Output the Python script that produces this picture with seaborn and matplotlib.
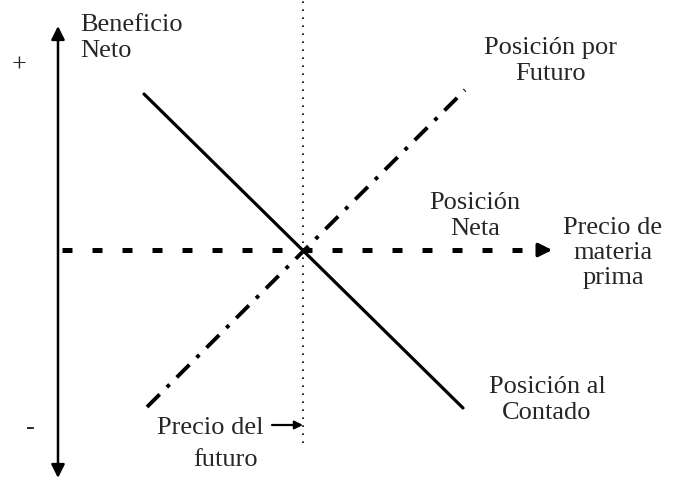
import matplotlib
matplotlib.use("Agg")
import matplotlib.pyplot as plt
import pandas as pd
import seaborn as sns

# price relative to the futures price (x) vs net profit (y)
precio_contado = [-159, 160]
beneficio_contado = [156, -158]
precio_futuro = [-156, 162]
beneficio_futuro = [-157, 160]
precio_neta = [-241, 240]
beneficio_neta = [0, 0]

eje_x = -245
eje_y = [-226, 224]
linea_futuro_y = [-193, 250]

sns.set_style("white")
plt.rcParams['font.family'] = ['Liberation Serif', 'DejaVu Serif']

fig = plt.figure(figsize=(6.73, 4.78), dpi=100)
ax = fig.add_axes([0, 0, 1, 1])
ax.set_xlim(-303, 370)
ax.set_ylim(-228, 250)
ax.set_axis_off()

contado = pd.DataFrame({'precio': precio_contado, 'beneficio': beneficio_contado})
futuro = pd.DataFrame({'precio': precio_futuro, 'beneficio': beneficio_futuro})

sns.lineplot(data=contado, x='precio', y='beneficio', ax=ax,
             color='black', lw=2.3)
sns.lineplot(data=futuro, x='precio', y='beneficio', ax=ax,
             color='black', lw=2.8, linestyle=(0, (4.6, 2.6, 1, 2.6)))
ax.plot(precio_neta, beneficio_neta, color='black', lw=3.6,
        linestyle=(0, (2, 4)))
ax.annotate('', xy=(precio_neta[1] + 12, 0), xytext=(precio_neta[1] - 6, 0),
            arrowprops=dict(arrowstyle='-|>', color='black', lw=2.5,
                            mutation_scale=20))

# vertical dotted line at the futures price
ax.plot([0, 0], linea_futuro_y, color='black', lw=1.2, linestyle=(0, (1, 3.8)))

# profit axis
ax.annotate('', xy=(eje_x, eje_y[1]), xytext=(eje_x, eje_y[0] - 2),
            arrowprops=dict(arrowstyle='<|-|>', color='black', lw=1.8,
                            mutation_scale=20, shrinkA=0, shrinkB=0))

fs = 19
ax.text(-223, 212, 'Beneficio\nNeto', fontsize=fs, ha='left', va='center',
        linespacing=1.2)
ax.text(-284, 184, '+', fontsize=fs, ha='center', va='center')
ax.text(-273, -178, '-', fontsize=fs, ha='center', va='center')
ax.text(248, 189, 'Posición por\nFuturo', fontsize=fs, ha='center',
        va='center', linespacing=1.2)
ax.text(172, 34, 'Posición\nNeta', fontsize=fs, ha='center', va='center',
        linespacing=1.2)
ax.text(310, -3, 'Precio de\nmateria\nprima', fontsize=fs, ha='center',
        va='center', linespacing=1.15)
ax.text(244, -150, 'Posición al\nContado', fontsize=fs, ha='center',
        va='center', linespacing=1.2)
ax.text(-39, -178, 'Precio del', fontsize=fs, ha='right', va='center')
ax.text(-77, -210, 'futuro', fontsize=fs, ha='center', va='center')
ax.annotate('', xy=(0, -175), xytext=(-31, -175),
            arrowprops=dict(arrowstyle='-|>', color='black', lw=1.6,
                            mutation_scale=12, shrinkA=0, shrinkB=0))

plt.savefig("out.png", dpi=100)
